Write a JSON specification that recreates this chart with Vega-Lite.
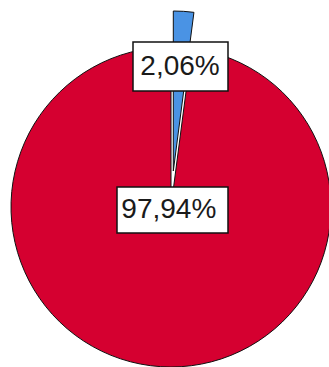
{
  "$schema": "https://vega.github.io/schema/vega-lite/v6.json",
  "width": 316,
  "height": 320,
  "autosize": "none",
  "padding": {"left": 13, "top": 47, "right": 0, "bottom": 0},
  "background": "white",
  "config": {"view": {"stroke": null}},
  "data": {
    "values": [
      {"cat": "A", "pct": 2.06, "label": "2,06%"},
      {"cat": "B", "pct": 97.94, "label": "97,94%"}
    ]
  },
  "transform": [
    {"stack": "pct", "groupby": [], "sort": [{"field": "cat"}], "as": ["t0", "t1"]}
  ],
  "layer": [
    {
      "transform": [{"filter": "datum.cat === 'B'"}],
      "mark": {"type": "arc", "outerRadius": 160, "fill": "#D50030", "stroke": "#111111", "strokeWidth": 1},
      "encoding": {
        "theta": {"field": "t0", "type": "quantitative", "scale": {"domain": [0, 100]}},
        "theta2": {"field": "t1"}
      }
    },
    {
      "transform": [{"filter": "datum.cat === 'A'"}],
      "mark": {"type": "arc", "outerRadius": 160, "fill": "#4A93E4", "stroke": "#111111", "strokeWidth": 1, "xOffset": 2.3, "yOffset": -36},
      "encoding": {
        "theta": {"field": "t0", "type": "quantitative", "scale": {"domain": [0, 100]}},
        "theta2": {"field": "t1"}
      }
    },
    {
      "transform": [{"filter": "datum.cat === 'A'"}],
      "mark": {"type": "point", "shape": "M-1,-0.516L1,-0.516L1,0.516L-1,0.516Z", "size": 9025, "filled": true, "fill": "white", "stroke": "#111111", "strokeWidth": 1.5, "opacity": 1, "xOffset": 9.5, "yOffset": -140.5},
      "encoding": {}
    },
    {
      "transform": [{"filter": "datum.cat === 'B'"}],
      "mark": {"type": "point", "shape": "M-1,-0.414L1,-0.414L1,0.414L-1,0.414Z", "size": 12321, "filled": true, "fill": "white", "stroke": "#111111", "strokeWidth": 1.5, "opacity": 1, "xOffset": 1.5, "yOffset": 3},
      "encoding": {}
    },
    {
      "mark": {"type": "text", "radius": 140, "font": "Liberation Sans", "fontSize": 28, "fill": "#1a1a1a", "baseline": "middle", "align": "center"},
      "encoding": {
        "theta": {"field": "pct", "type": "quantitative", "stack": true, "scale": {"domain": [0, 100]}},
        "detail": {"field": "cat"},
        "text": {"condition": {"test": "datum.cat === 'A'", "field": "label"}, "value": ""}
      }
    },
    {
      "mark": {"type": "text", "radius": 3, "font": "Liberation Sans", "fontSize": 28, "fill": "#1a1a1a", "baseline": "middle", "align": "center", "dx": -2},
      "encoding": {
        "theta": {"field": "pct", "type": "quantitative", "stack": true, "scale": {"domain": [0, 100]}},
        "detail": {"field": "cat"},
        "text": {"condition": {"test": "datum.cat === 'B'", "field": "label"}, "value": ""}
      }
    }
  ]
}
